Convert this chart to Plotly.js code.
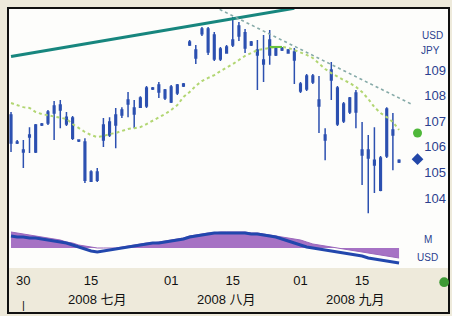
<!DOCTYPE html>
<html><head><meta charset="utf-8">
<script src="https://cdn.plot.ly/plotly-3.0.1.min.js"></script>
<style>html,body{margin:0;padding:0;background:#eeeadb;}#chart{width:452px;height:316px;}</style>
</head><body><div id="chart"></div>
<script>
// ---- data ----
const dates = ['2008-06-26','2008-06-27','2008-06-30','2008-07-01','2008-07-02','2008-07-03','2008-07-04','2008-07-07','2008-07-08','2008-07-09','2008-07-10','2008-07-11','2008-07-14','2008-07-15','2008-07-16','2008-07-17','2008-07-18','2008-07-21','2008-07-22','2008-07-23','2008-07-24','2008-07-25','2008-07-28','2008-07-29','2008-07-30','2008-07-31','2008-08-01','2008-08-04','2008-08-05','2008-08-06','2008-08-07','2008-08-08','2008-08-11','2008-08-12','2008-08-13','2008-08-14','2008-08-15','2008-08-18','2008-08-19','2008-08-20','2008-08-21','2008-08-22','2008-08-25','2008-08-26','2008-08-27','2008-08-28','2008-08-29','2008-09-01','2008-09-02','2008-09-03','2008-09-04','2008-09-05','2008-09-08','2008-09-09','2008-09-10','2008-09-11','2008-09-12','2008-09-15','2008-09-16','2008-09-17','2008-09-18','2008-09-19','2008-09-22','2008-09-23'];
const futureDates = ['2008-09-24','2008-09-25','2008-09-26'];

const open = [107.24,106.15,105.88,106.38,105.80,106.85,106.93,107.32,107.63,107.16,107.13,106.27,106.19,104.66,105.02,106.27,106.46,106.85,107.24,107.67,107.52,107.55,107.59,108.30,108.14,108.22,107.75,108.10,108.38,109.98,109.78,110.41,110.60,110.37,109.43,109.90,109.98,110.72,110.45,109.98,109.78,109.23,109.59,109.86,109.78,109.78,109.70,108.45,108.26,108.77,107.83,106.46,108.61,108.30,107.01,107.36,108.10,105.88,105.88,105.48,104.31,105.64,106.66,105.48];
const high = [107.36,106.27,106.27,106.77,106.89,106.93,107.44,107.79,107.83,107.36,107.20,106.30,106.34,105.09,105.17,107.13,107.16,107.52,107.55,108.14,107.83,107.98,108.38,108.34,108.53,108.26,108.41,108.45,108.49,110.17,109.98,110.68,110.68,110.48,109.90,109.98,111.07,110.87,110.60,110.13,110.17,110.37,110.56,109.90,109.90,109.82,109.86,108.53,108.84,108.84,108.77,106.73,109.31,108.38,107.75,107.95,108.22,106.97,106.46,106.77,105.64,107.55,107.32,105.52];
const low = [105.80,106.11,105.17,105.76,105.76,106.81,106.85,106.27,106.73,106.81,106.27,106.19,104.59,104.63,104.63,105.99,106.38,105.95,107.13,107.16,106.73,107.52,107.52,108.22,107.91,107.83,107.71,108.02,108.34,109.94,109.23,110.33,109.59,109.35,109.35,109.63,109.90,110.13,109.66,109.94,108.22,108.53,109.20,109.55,109.74,109.63,108.45,108.10,108.18,108.45,106.54,105.48,107.83,106.81,106.93,107.28,106.73,104.51,103.41,104.20,104.27,105.56,105.09,105.37];
const close = [106.15,106.19,105.80,106.46,106.85,106.89,107.36,107.59,107.44,106.89,106.34,106.23,104.70,105.02,104.70,106.85,106.97,107.24,107.44,107.83,107.28,107.91,108.30,108.26,108.41,107.91,108.34,108.41,108.45,110.09,109.47,110.60,109.70,109.43,109.82,109.66,110.17,110.33,109.86,110.09,109.59,109.39,110.17,109.59,109.86,109.66,109.39,108.18,108.77,108.53,107.59,106.27,109.00,106.89,107.67,107.91,107.36,105.68,105.56,105.29,105.56,107.48,106.46,105.41];
const movingAvg = [107.71,107.63,107.55,107.52,107.36,107.28,107.24,107.20,107.16,107.09,106.89,106.73,106.58,106.46,106.38,106.42,106.50,106.54,106.62,106.70,106.73,106.77,106.89,107.01,107.13,107.28,107.44,107.63,107.95,108.14,108.38,108.57,108.69,108.80,108.96,109.08,109.23,109.39,109.55,109.66,109.78,109.82,109.86,109.90,109.90,109.86,109.78,109.70,109.59,109.47,109.27,109.04,108.88,108.73,108.61,108.49,108.34,108.14,107.87,107.55,107.32,107.16,106.97,106.66];

// indicator panel
const oscArea = [0.80,0.75,0.70,0.65,0.60,0.55,0.50,0.45,0.40,0.30,0.25,0.15,0.10,0.05,0,0,0,0,0.05,0.10,0.15,0.20,0.25,0.25,0.30,0.35,0.40,0.45,0.50,0.60,0.65,0.70,0.75,0.75,0.80,0.80,0.80,0.80,0.80,0.75,0.75,0.70,0.65,0.60,0.55,0.50,0.45,0.40,0.30,0.20,0.15,0.10,0.05,0,-0.05,-0.10,-0.15,-0.20,-0.25,-0.30,-0.35,-0.40,-0.45,-0.50];
const oscLine = [0.60,0.55,0.55,0.50,0.50,0.45,0.40,0.35,0.30,0.25,0.15,0.05,-0.05,-0.15,-0.20,-0.15,-0.10,-0.05,0,0.05,0.10,0.15,0.20,0.25,0.25,0.30,0.35,0.40,0.45,0.55,0.60,0.65,0.70,0.75,0.75,0.75,0.75,0.75,0.75,0.70,0.70,0.65,0.60,0.55,0.45,0.35,0.25,0.15,0.05,0,-0.05,-0.10,-0.15,-0.20,-0.25,-0.30,-0.35,-0.40,-0.50,-0.55,-0.60,-0.65,-0.70,-0.75];

// trend lines
const upTrendDates = ['2008-06-26','2008-08-29'];
const upTrendValues = [109.53, 111.41];
const downTrendDates = ['2008-08-12','2008-09-25'];
const downTrendValues = [111.47, 107.67];
const levelDates = ['2008-08-25','2008-08-27'];
const levelValues = [109.90, 109.90];
// right-edge markers
const markerDate = ['2008-09-26'];
const maMarker = [106.54];
const priceMarker = [105.52];

// tick labels
const priceTicks = [103,104,105,106,107,108,109];
const dayTickDates = ['2008-06-30','2008-07-15','2008-08-01','2008-08-15','2008-09-01','2008-09-15'];
const dayTickText = ['30','15','01','15','01','15'];
const monthDates = ['2008-07-16','2008-08-14','2008-09-12'];
const monthText = ['2008 七月','2008 八月','2008 九月'];

// ---- chart ----
const blue = '#2c50b0';
const font = 'Liberation Sans, Arial, Noto Sans CJK SC, sans-serif';

const traces = [
  {type:'scatter', mode:'lines', x:upTrendDates, y:upTrendValues, line:{color:'#17867e', width:3}, xaxis:'x', yaxis:'y', hoverinfo:'skip'},
  {type:'scatter', mode:'lines', x:downTrendDates, y:downTrendValues, line:{color:'#86aaa8', width:1.6, dash:'dot'}, xaxis:'x', yaxis:'y', hoverinfo:'skip'},
  {type:'scatter', mode:'lines', x:dates, y:movingAvg, line:{color:'#b2d672', width:2, dash:'dot'}, xaxis:'x', yaxis:'y', hoverinfo:'skip'},
  {type:'scatter', mode:'lines', x:levelDates, y:levelValues, line:{color:'#66c23a', width:2}, xaxis:'x', yaxis:'y', hoverinfo:'skip'},
  {type:'candlestick', x:dates, open:open, high:high, low:low, close:close, xaxis:'x', yaxis:'y',
   increasing:{line:{color:blue, width:1.5}, fillcolor:blue},
   decreasing:{line:{color:blue, width:1.5}, fillcolor:blue},
   whiskerwidth:0, hoverinfo:'skip'},
  {type:'scatter', mode:'markers', x:markerDate, y:maMarker, marker:{color:'#4fb83a', size:9, symbol:'circle'}, xaxis:'x', yaxis:'y', cliponaxis:false, hoverinfo:'skip'},
  {type:'scatter', mode:'markers', x:markerDate, y:priceMarker, marker:{color:'#2246a8', size:9, symbol:'diamond'}, xaxis:'x', yaxis:'y', cliponaxis:false, hoverinfo:'skip'},
  {type:'scatter', mode:'lines', x:dates, y:oscArea, fill:'tozeroy', fillcolor:'#a672c4', line:{color:'#9a66bb', width:1}, xaxis:'x', yaxis:'y2', hoverinfo:'skip'},
  {type:'scatter', mode:'lines', x:dates, y:oscLine, line:{color:'#2247ad', width:3}, xaxis:'x', yaxis:'y2', hoverinfo:'skip'}
];

const annotations = monthText.map((t,i)=>({x:monthDates[i], xref:'x', y:0.045, yref:'paper', text:t, showarrow:false, font:{family:font, size:13, color:'#111'}, xanchor:'center', yanchor:'middle'}));
annotations.push({x:dayTickDates[0], xref:'x', y:0.025, yref:'paper', text:'|', showarrow:false, yanchor:'middle', font:{family:font, size:11, color:'#111'}});
annotations.push({x:0.99, xref:'paper', y:0.934, yref:'paper', text:'USD', showarrow:false, xanchor:'right', font:{family:font, size:10, color:'#2b3f8f'}});
annotations.push({x:0.985, xref:'paper', y:0.885, yref:'paper', text:'JPY', showarrow:false, xanchor:'right', font:{family:font, size:10, color:'#2b3f8f'}});
annotations.push({x:0.965, xref:'paper', y:0.216, yref:'paper', text:'M', showarrow:false, xanchor:'right', font:{family:font, size:10, color:'#2b3f8f'}});
annotations.push({x:0.98, xref:'paper', y:0.157, yref:'paper', text:'USD', showarrow:false, xanchor:'right', font:{family:font, size:10, color:'#2b3f8f'}});

const layout = {
  width:452, height:316,
  margin:{l:8, r:3, t:8, b:3, pad:0},
  paper_bgcolor:'#eeeadb', plot_bgcolor:'#fdfdfb',
  showlegend:false,
  boxgap:0.62,
  font:{family:font},
  xaxis:{type:'category', categoryorder:'array', categoryarray:dates.concat(futureDates),
    range:[-0.49, 71.11], anchor:'free', position:0.138,
    showgrid:false, zeroline:false, showline:false, ticks:'',
    tickmode:'array', tickvals:dayTickDates, ticktext:dayTickText,
    tickfont:{family:font, size:13, color:'#111'},
    rangeslider:{visible:false}, fixedrange:true},
  yaxis:{domain:[0.2852, 1], range:[102.91, 111.42], side:'right', ticklabelposition:'inside',
    tickmode:'array', tickvals:priceTicks, showgrid:false, zeroline:false, showline:false, ticks:'',
    tickfont:{family:font, size:13, color:'#2b3f8f'}, fixedrange:true},
  yaxis2:{domain:[0.1475, 0.2852], range:[-1.0, 1.1], showticklabels:false, showgrid:false, zeroline:false, showline:false, ticks:'', fixedrange:true},
  shapes:[
    {type:'rect', xref:'paper', yref:'paper', x0:0, x1:1, y0:0, y1:1, line:{color:'#111', width:2}},
    {type:'circle', xref:'paper', yref:'paper', x0:0.978, x1:1.0, y0:0.085, y1:0.117, fillcolor:'#3e9a35', line:{width:0}}
  ],
  annotations:annotations
};

Plotly.newPlot('chart', traces, layout, {displayModeBar:false, staticPlot:true});
</script>
</body></html>
